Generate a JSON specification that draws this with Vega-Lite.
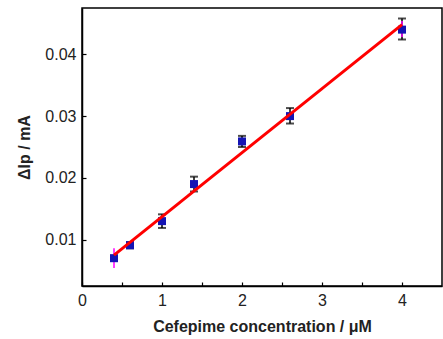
{
  "$schema": "https://vega.github.io/schema/vega-lite/v6.json",
  "width": 360,
  "height": 278,
  "autosize": "none",
  "padding": {"left": 82, "top": 8, "right": 1, "bottom": 53},
  "background": "white",
  "config": {
    "view": {"stroke": "black", "strokeWidth": 1.5},
    "axis": {
      "labelFont": "Liberation Sans",
      "labelFontSize": 16,
      "labelColor": "#222222",
      "labelOverlap": false,
      "labelFlush": false,
      "titleFont": "Liberation Sans",
      "titleFontSize": 16,
      "titleFontWeight": "bold",
      "titleColor": "#222222",
      "domainColor": "black",
      "domainWidth": 1.5,
      "tickColor": "black",
      "tickWidth": 1.2,
      "tickSize": -4,
      "grid": false
    }
  },
  "datasets": {
    "pts": [
      {"c": 0.4, "ip": 0.007, "lo": 0.0066, "hi": 0.0074, "mlo": 0.0054, "mhi": 0.0086},
      {"c": 0.6, "ip": 0.0091, "lo": 0.0086, "hi": 0.0096},
      {"c": 1.0, "ip": 0.013, "lo": 0.0119, "hi": 0.0141},
      {"c": 1.4, "ip": 0.019, "lo": 0.0178, "hi": 0.0202},
      {"c": 2.0, "ip": 0.0259, "lo": 0.025, "hi": 0.0268},
      {"c": 2.6, "ip": 0.030, "lo": 0.0288, "hi": 0.0313},
      {"c": 4.0, "ip": 0.044, "lo": 0.0424, "hi": 0.0458, "mlo": 0.0428, "mhi": 0.0454}
    ],
    "fit": [
      {"c": 0.4, "ip": 0.0075},
      {"c": 4.0, "ip": 0.0448}
    ]
  },
  "layer": [
    {
      "data": {"name": "pts"},
      "mark": {"type": "rule", "color": "black", "strokeWidth": 1.5},
      "encoding": {
        "x": {
          "field": "c", "type": "quantitative",
          "scale": {"domain": [0, 4.5], "nice": false, "zero": false, "padding": 0},
          "axis": {
            "values": [0, 0.5, 1, 1.5, 2, 2.5, 3, 3.5, 4],
            "labelExpr": "datum.value % 1 === 0 ? format(datum.value, 'd') : ''",
            "labelOverlap": false,
            "labelPadding": 10,
            "title": "Cefepime concentration / μM",
            "titlePadding": 10
          }
        },
        "y": {
          "field": "lo", "type": "quantitative",
          "scale": {"domain": [0.0025, 0.0475], "nice": false, "zero": false, "padding": 0},
          "axis": {
            "values": [0.01, 0.02, 0.03, 0.04],
            "format": ".2f",
            "labelOverlap": false,
            "labelPadding": 10,
            "title": "ΔIp / mA",
            "titlePadding": 12
          }
        },
        "y2": {"field": "hi"}
      }
    },
    {
      "data": {"name": "pts"},
      "mark": {"type": "tick", "orient": "horizontal", "color": "black", "size": 8, "thickness": 2},
      "encoding": {
        "x": {"field": "c", "type": "quantitative"},
        "y": {"field": "lo", "type": "quantitative"}
      }
    },
    {
      "data": {"name": "pts"},
      "mark": {"type": "tick", "orient": "horizontal", "color": "black", "size": 8, "thickness": 2},
      "encoding": {
        "x": {"field": "c", "type": "quantitative"},
        "y": {"field": "hi", "type": "quantitative"}
      }
    },
    {
      "data": {"name": "pts"},
      "transform": [{"filter": "isValid(datum.mlo)"}],
      "mark": {"type": "rule", "color": "#ff00ff", "strokeWidth": 1.5},
      "encoding": {
        "x": {"field": "c", "type": "quantitative"},
        "y": {"field": "mlo", "type": "quantitative"},
        "y2": {"field": "mhi"}
      }
    },
    {
      "data": {"name": "pts"},
      "mark": {"type": "square", "color": "#1414b4", "size": 64, "opacity": 1, "filled": true},
      "encoding": {
        "x": {"field": "c", "type": "quantitative"},
        "y": {"field": "ip", "type": "quantitative"}
      }
    },
    {
      "data": {"name": "fit"},
      "mark": {"type": "line", "color": "#ff0000", "strokeWidth": 3},
      "encoding": {
        "x": {"field": "c", "type": "quantitative"},
        "y": {"field": "ip", "type": "quantitative"}
      }
    }
  ]
}
